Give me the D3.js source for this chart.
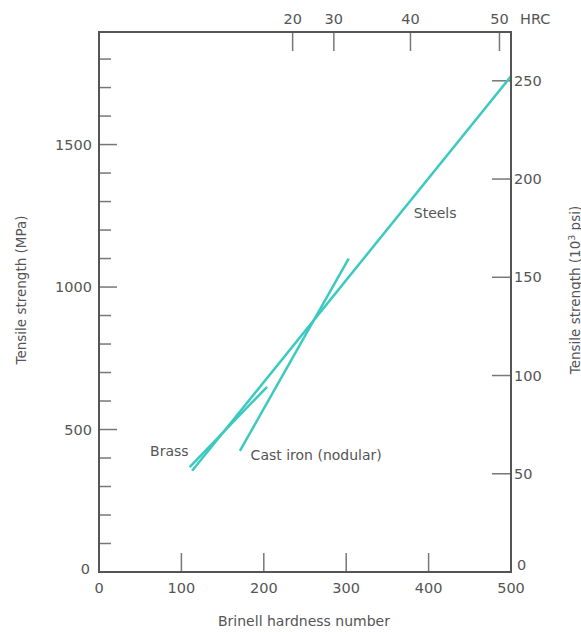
<!DOCTYPE html>
<html>
<head>
<meta charset="utf-8">
<script src="https://cdn.jsdelivr.net/npm/d3@7"></script>
<style>
  body { margin: 0; background: #fff; }
  svg text { font-family: "DejaVu Sans", sans-serif; fill: #555; }
</style>
</head>
<body>
<div id="chart"></div>
<script>
// Brinell hardness (x) vs tensile strength in MPa (y)
var brinellTicks = [0, 100, 200, 300, 400, 500]
var mpaTicks = [0, 500, 1000, 1500]
var mpaMinor = [100, 200, 300, 400, 600, 700, 800, 900, 1100, 1200, 1300, 1400, 1600, 1700, 1800]
var psiTicks = [0, 50, 100, 150, 200, 250]   // 10^3 psi
var hrcLabels = [20, 30, 40, 50]
var hrcAtBrinell = [235, 285, 378, 486]

var steels = [[113, 355], [500, 1740]]
var brass = [[110, 368], [204, 650]]
var castIron = [[171, 425], [303, 1100]]

var lineLabels = [
  { text: "Brass", x: 62, y: 407, anchor: "start" },
  { text: "Cast iron (nodular)", x: 184, y: 392, anchor: "start" },
  { text: "Steels", x: 382, y: 1242, anchor: "start" }
]

var start = function () {
  var W = 581, H = 632
  // plot frame (note: "top" is reserved on window, so use m.*)
  var m = { l: 99, r: 511, t: 32, b: 572 }

  var svg = d3.select("#chart").append("svg")
    .attr("width", W)
    .attr("height", H)

  var x = d3.scaleLinear().domain([0, 500]).range([m.l, m.r])
  var y = d3.scaleLinear().domain([0, 1895]).range([m.b, m.t])
  var psi = d3.scaleLinear().domain([0, 1895 / 6.895]).range([m.b, m.t])

  // ticks, all drawn inward
  var g = svg.append("g").attr("stroke", "#777").attr("stroke-width", 1.5)

  g.append("g").selectAll("line").data(mpaMinor).join("line")
    .attr("x1", m.l).attr("x2", m.l + 12)
    .attr("y1", d => y(d)).attr("y2", d => y(d))

  g.append("g").selectAll("line").data(mpaTicks.slice(1)).join("line")
    .attr("x1", m.l).attr("x2", m.l + 18)
    .attr("y1", d => y(d)).attr("y2", d => y(d))

  g.append("g").selectAll("line").data(psiTicks.slice(1)).join("line")
    .attr("x1", m.r - 19).attr("x2", m.r)
    .attr("y1", d => psi(d)).attr("y2", d => psi(d))

  g.append("g").selectAll("line").data(brinellTicks.slice(1, 5)).join("line")
    .attr("x1", d => x(d)).attr("x2", d => x(d))
    .attr("y1", m.b).attr("y2", m.b - 19)

  g.append("g").selectAll("line").data(hrcAtBrinell).join("line")
    .attr("x1", d => x(d)).attr("x2", d => x(d))
    .attr("y1", m.t).attr("y2", m.t + 19)

  // data lines
  var line = d3.line().x(d => x(d[0])).y(d => y(d[1]))
  var teal = "#3cc9bf"
  ;[steels, brass, castIron].forEach(function (s) {
    svg.append("path")
      .attr("d", line(s))
      .attr("fill", "none")
      .attr("stroke", teal)
      .attr("stroke-width", 2.5)
  })

  // frame
  svg.append("rect")
    .attr("x", m.l).attr("y", m.t)
    .attr("width", m.r - m.l).attr("height", m.b - m.t)
    .attr("fill", "none")
    .attr("stroke", "#555")
    .attr("stroke-width", 2)

  // tick labels
  var fs = "14.5px"
  svg.append("g").selectAll("text").data(brinellTicks).join("text")
    .attr("x", d => x(d)).attr("y", 593)
    .attr("text-anchor", "middle")
    .style("font-size", fs)
    .text(d => d)

  svg.append("g").selectAll("text").data(mpaTicks).join("text")
    .attr("x", d => d == 0 ? 90 : 92)
    .attr("y", d => d == 0 ? y(d) + 2 : y(d) + 5)
    .attr("text-anchor", "end")
    .style("font-size", fs)
    .text(d => d)

  svg.append("g").selectAll("text").data(psiTicks).join("text")
    .attr("x", d => d == 0 ? 517 : 514)
    .attr("y", d => d == 0 ? psi(d) - 2 : psi(d) + 5)
    .attr("text-anchor", "start")
    .style("font-size", fs)
    .text(d => d)

  svg.append("g").selectAll("text").data(hrcLabels).join("text")
    .attr("x", (d, i) => x(hrcAtBrinell[i])).attr("y", 24)
    .attr("text-anchor", "middle")
    .style("font-size", fs)
    .text(d => d)

  svg.append("text")
    .attr("x", 520).attr("y", 24)
    .style("font-size", fs)
    .text("HRC")

  // axis titles
  svg.append("text")
    .attr("x", 304).attr("y", 626)
    .attr("text-anchor", "middle")
    .style("font-size", "14px")
    .text("Brinell hardness number")

  svg.append("text")
    .attr("transform", "translate(26,290) rotate(-90)")
    .attr("text-anchor", "middle")
    .style("font-size", "13.5px")
    .text("Tensile strength (MPa)")

  // right title runs off the edge, as in the source figure
  var rt = svg.append("text")
    .attr("transform", "translate(580,290) rotate(-90)")
    .attr("text-anchor", "middle")
    .style("font-size", "13.5px")
  rt.append("tspan").text("Tensile strength (10")
  rt.append("tspan").attr("dy", -5).style("font-size", "9.5px").text("3")
  rt.append("tspan").attr("dy", 5).text(" psi)")

  // line labels
  svg.append("g").selectAll("text").data(lineLabels).join("text")
    .attr("x", d => x(d.x)).attr("y", d => y(d.y))
    .attr("text-anchor", d => d.anchor)
    .style("font-size", "14px")
    .text(d => d.text)
}

start()
</script>
</body>
</html>
